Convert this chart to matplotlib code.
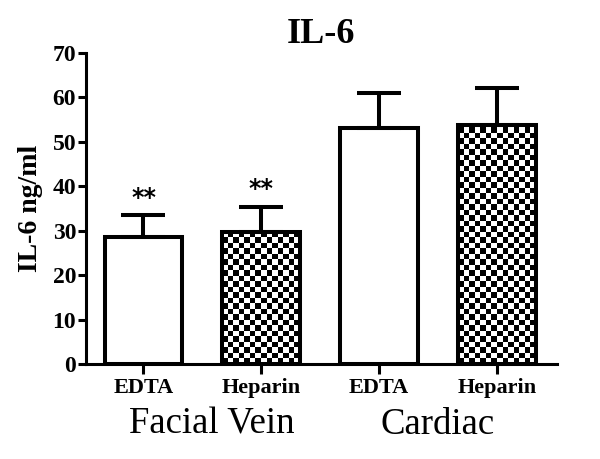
import numpy as np
import matplotlib
matplotlib.use("Agg")
import matplotlib.pyplot as plt

# ---- data ----
tick_labels = ["EDTA", "Heparin", "EDTA", "Heparin"]
group_labels = ["Facial Vein", "Cardiac"]
means = [28.6, 29.6, 53.1, 53.7]
sem = [4.9, 5.8, 7.9, 8.3]
checkered = [False, True, False, True]
significance = ["**", "**", "", ""]
title = "IL-6"
ylabel = "IL-6 ng/ml"

serif = "Liberation Serif"

fig = plt.figure(figsize=(6.0, 4.59), dpi=100)
ax = fig.add_axes([0.143, 0.207, 0.785, 0.678])

x = np.arange(len(means))
width = 0.66
ax.set_xlim(-0.49, 3.51)
ax.set_ylim(0, 70)

bars = ax.bar(x, means, width=width, color="white", edgecolor="none", zorder=1)

# checkerboard fill
fig.canvas.draw()
sq_px = 5.5
for b, chk in zip(bars, checkered):
    if not chk:
        continue
    x0, y0 = b.get_x(), b.get_y()
    w, h = b.get_width(), b.get_height()
    p0 = ax.transData.transform((x0, y0))
    p1 = ax.transData.transform((x0 + w, y0 + h))
    nx = max(1, int(round(abs(p1[0] - p0[0]) / sq_px)))
    ny = max(1, int(round(abs(p1[1] - p0[1]) / sq_px)))
    img = (np.add.outer(np.arange(ny), np.arange(nx)) % 2).astype(float)
    im = ax.imshow(img, extent=(x0, x0 + w, y0, y0 + ny * sq_px * h / abs(p1[1] - p0[1])),
                   origin="lower", cmap="gray", interpolation="nearest",
                   aspect="auto", zorder=2, vmin=0, vmax=1)
    im.set_clip_path(b)

# edges + error bars
ax.bar(x, means, width=width, fill=False, edgecolor="black", linewidth=2.9,
       zorder=3, joinstyle="miter")
ax.errorbar(x, means, yerr=[np.zeros(len(sem)), sem], fmt="none", ecolor="black",
            elinewidth=2.9, capsize=15.5, capthick=2.9, zorder=2.5)

for xi, m, s, sig in zip(x, means, sem, significance):
    if sig:
        ax.text(xi, m + s + 1.2, sig, ha="center", va="bottom", fontsize=17,
                fontweight="bold", family="DejaVu Sans")

ax.set_xlim(-0.49, 3.51)
ax.set_ylim(0, 70)

for side in ["top", "right"]:
    ax.spines[side].set_visible(False)
for side in ["left", "bottom"]:
    ax.spines[side].set_linewidth(2.2)

ax.set_yticks(np.arange(0, 71, 10))
ax.set_xticks(x)
ax.set_xticklabels(tick_labels)
ax.tick_params(axis="y", length=6, width=2.2, labelsize=17, pad=1)
ax.tick_params(axis="x", length=7, width=2.2, labelsize=16, pad=3)
for lab in ax.get_yticklabels() + ax.get_xticklabels():
    lab.set_family(serif)
    lab.set_fontweight("bold")

ax.set_ylabel(ylabel, fontsize=20, fontweight="bold", family=serif, labelpad=7)
ax.set_title(title, fontsize=26, fontweight="bold", family=serif, pad=7)

# group labels
group_x = [0.58, 2.5]
for gx, gl in zip(group_x, group_labels):
    ax.text(gx, -0.195, gl, transform=ax.get_xaxis_transform(), ha="center",
            va="center", fontsize=26.5, family=serif)

fig.savefig("out.png", dpi=100)
